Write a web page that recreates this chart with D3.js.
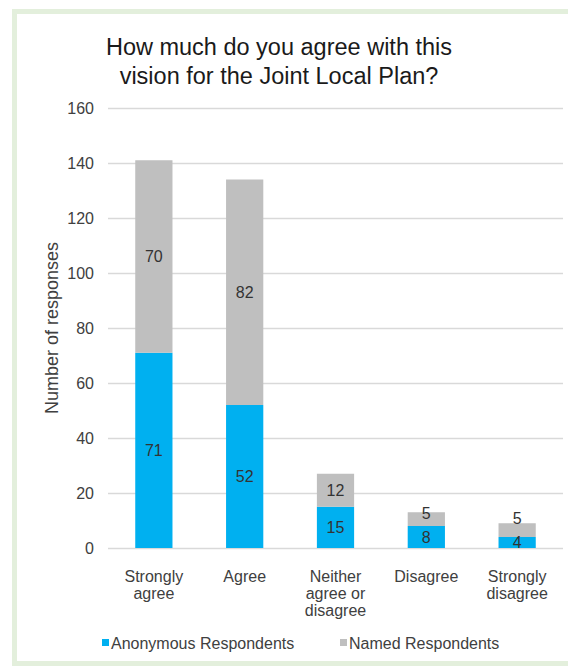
<!DOCTYPE html>
<html>
<head>
<meta charset="utf-8">
<script src="https://cdn.jsdelivr.net/npm/d3@7"></script>
<style>
  body { margin: 0; background: #fff; }
  svg { display: block; font-family: "Liberation Sans", Arial, sans-serif; }
</style>
</head>
<body>
<svg id="chart" width="568" height="667"></svg>
<script>
const categories = [["Strongly", "agree"], ["Agree"], ["Neither", "agree or", "disagree"], ["Disagree"], ["Strongly", "disagree"]];
const anonymous = [71, 52, 15, 8, 4];
const named = [70, 82, 12, 5, 5];
const yTicks = [0, 20, 40, 60, 80, 100, 120, 140, 160];
const seriesNames = ["Anonymous Respondents", "Named Respondents"];
const colors = ["#00b0f0", "#bfbfbf"];

const svg = d3.select("#chart");

// light green frame around the chart
svg.append("rect")
  .attr("x", 14.5).attr("y", 11.5)
  .attr("width", 560).attr("height", 652)
  .attr("fill", "none")
  .attr("stroke", "#e3efdc")
  .attr("stroke-width", 5);

svg.append("text")
  .attr("y", 55)
  .attr("text-anchor", "middle")
  .attr("font-size", 23.5)
  .attr("fill", "#1a1a1a")
  .selectAll("tspan")
  .data(["How much do you agree with this", "vision for the Joint Local Plan?"])
  .enter().append("tspan")
  .attr("x", 279)
  .attr("dy", (d, i) => i ? 29 : 0)
  .text(d => d);

const x = d3.scaleBand()
  .domain(d3.range(categories.length))
  .range([108, 563])
  .paddingInner(0.59)
  .paddingOuter(0.3);

const y = d3.scaleLinear()
  .domain([0, 160])
  .range([548, 108]);

// grid + tick labels
const yAxis = svg.append("g")
  .attr("transform", "translate(108,0)")
  .call(d3.axisLeft(y).tickValues(yTicks).tickSize(-455).tickPadding(14));
yAxis.select(".domain").remove();
yAxis.selectAll(".tick line").attr("stroke", "#d9d9d9").attr("stroke-width", 1.3);
yAxis.selectAll(".tick text")
  .attr("font-size", 16)
  .attr("font-family", "Liberation Sans, Arial, sans-serif")
  .attr("fill", "#404040");

svg.append("text")
  .attr("transform", `translate(58,${(y(0) + y(160)) / 2}) rotate(-90)`)
  .attr("text-anchor", "middle")
  .attr("font-size", 18)
  .attr("fill", "#404040")
  .text("Number of responses");

const stacked = d3.stack().keys([0, 1])(anonymous.map((a, i) => ({0: a, 1: named[i]})));

const layer = svg.selectAll(".layer")
  .data(stacked)
  .enter().append("g")
  .attr("class", "layer")
  .attr("fill", (d, i) => colors[i]);

layer.selectAll("rect")
  .data(d => d)
  .enter().append("rect")
  .attr("x", (d, i) => x(i))
  .attr("width", x.bandwidth())
  .attr("y", d => y(d[1]))
  .attr("height", d => y(d[0]) - y(d[1]));

// data labels: centred in each segment, the upper one pushed up if it would overlap
const labelY = stacked.map(s => s.map(d => y((d[0] + d[1]) / 2)));
const upperY = labelY[1].map((v, i) => Math.min(v, labelY[0][i] - 24));

stacked.forEach((s, k) => {
  svg.append("g").selectAll("text")
    .data(s)
    .enter().append("text")
    .attr("x", (d, i) => x(i) + x.bandwidth() / 2)
    .attr("y", (d, i) => k === 0 ? labelY[0][i] : upperY[i])
    .attr("dy", "0.36em")
    .attr("text-anchor", "middle")
    .attr("font-size", 16)
    .attr("fill", "#333")
    .text(d => d[1] - d[0]);
});

// category labels
const cat = svg.append("g").selectAll("text")
  .data(categories)
  .enter().append("text")
  .attr("text-anchor", "middle")
  .attr("font-size", 16)
  .attr("fill", "#404040")
  .attr("y", 582);
cat.selectAll("tspan")
  .data((d, i) => d.map(t => ({t, i})))
  .enter().append("tspan")
  .attr("x", d => x(d.i) + x.bandwidth() / 2)
  .attr("dy", (d, j) => j ? 17 : 0)
  .text(d => d.t);

// legend
const legendX = [102, 340];
const legend = svg.append("g").selectAll("g")
  .data(seriesNames)
  .enter().append("g")
  .attr("transform", (d, i) => `translate(${legendX[i]},639)`);
legend.append("rect")
  .attr("width", 7).attr("height", 7)
  .attr("fill", (d, i) => colors[i]);
legend.append("text")
  .attr("x", 9).attr("y", 4)
  .attr("dy", "0.36em")
  .attr("font-size", 16)
  .attr("fill", "#404040")
  .text(d => d);
</script>
</body>
</html>
